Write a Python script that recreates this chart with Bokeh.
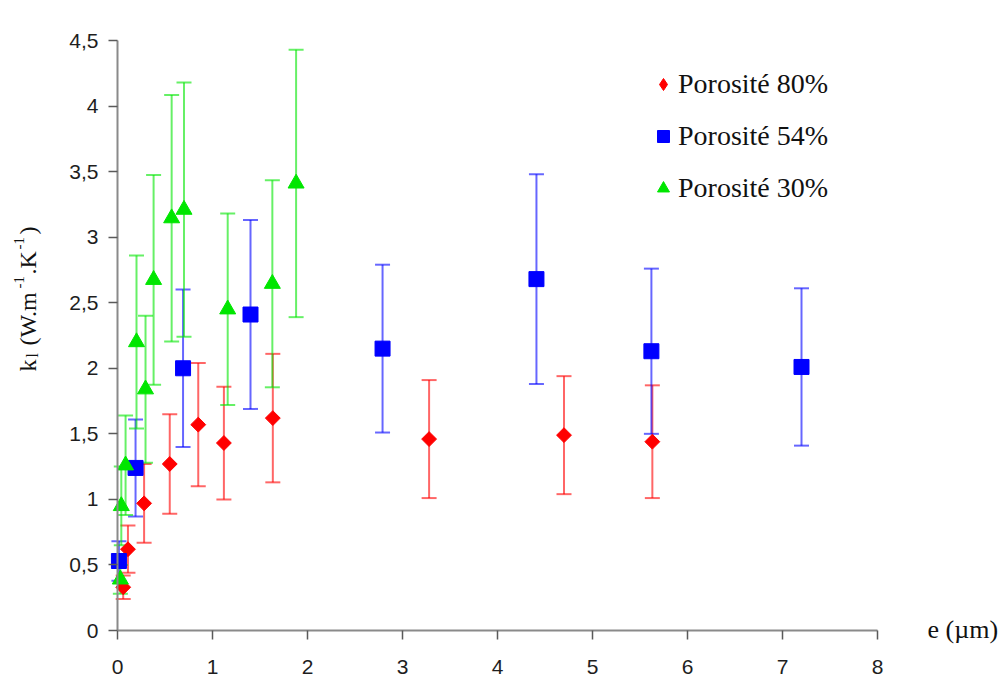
import numpy as np
from bokeh.plotting import figure
from bokeh.models import (ColumnDataSource, Whisker, TeeHead, Legend, LegendItem,
                          Label, FixedTicker, Range1d)
from bokeh.embed import file_html
from bokeh.resources import INLINE

# Epaisseur e (µm), conductivité kl et incertitude (±) pour chaque porosité
e80 = [0.06, 0.11, 0.28, 0.55, 0.85, 1.12, 1.635, 3.28, 4.70, 5.63]
k80 = [0.33, 0.62, 0.97, 1.27, 1.57, 1.43, 1.62, 1.46, 1.49, 1.44]
err80 = [0.09, 0.18, 0.30, 0.38, 0.47, 0.43, 0.49, 0.45, 0.45, 0.43]

e54 = [0.015, 0.19, 0.69, 1.40, 2.79, 4.41, 5.62, 7.20]
k54 = [0.53, 1.24, 2.00, 2.41, 2.15, 2.68, 2.13, 2.01]
err54 = [0.15, 0.37, 0.60, 0.72, 0.64, 0.80, 0.63, 0.60]

e30 = [0.03, 0.04, 0.085, 0.20, 0.295, 0.38, 0.57, 0.70, 1.16, 1.63, 1.88]
k30 = [0.39, 0.95, 1.26, 2.20, 1.84, 2.675, 3.145, 3.21, 2.45, 2.645, 3.41]
err30 = [0.11, 0.30, 0.38, 0.66, 0.56, 0.80, 0.94, 0.97, 0.73, 0.79, 1.02]

series_names = ["Porosité 80%", "Porosité 54%", "Porosité 30%"]
x_ticks = [0, 1, 2, 3, 4, 5, 6, 7, 8]
y_ticks = [0, 0.5, 1, 1.5, 2, 2.5, 3, 3.5, 4, 4.5]
y_tick_labels = ["0", "0,5", "1", "1,5", "2", "2,5", "3", "3,5", "4", "4,5"]

RED, BLUE, GREEN = "#ff0000", "#0000ff", "#00e600"
SERIF = "Liberation Serif"
SANS = "Liberation Sans"

W, H = 1007, 680
# axes box in canvas pixels: x 0..8 spans 117..877, y 0..4.5 spans 630..40
X0_PX, X1_PX, Y0_PX, Y1_PX = 117, 877, 630, 40
XMAX, YMAX = 8.0, 4.5
sx = (X1_PX - X0_PX) / XMAX
sy = (Y0_PX - Y1_PX) / YMAX

# the plotting frame covers the whole canvas; the axes sit at e = 0 and kl = 0
x_range = Range1d(-X0_PX / sx, (W - X0_PX) / sx)
y_range = Range1d(-(H - Y0_PX) / sy, Y0_PX / sy)

p = figure(width=W, height=H, x_range=x_range, y_range=y_range,
           output_backend="svg", toolbar_location=None, min_border=0)
p.xgrid.visible = False
p.ygrid.visible = False
p.outline_line_color = None
p.background_fill_color = "white"
p.border_fill_color = "white"

for ax in (p.xaxis[0], p.yaxis[0]):
    ax.fixed_location = 0
    ax.axis_line_color = "#8a8a8a"
    ax.axis_line_width = 2
    ax.major_tick_line_color = "#5a5a5a"
    ax.major_tick_line_width = 1.5
    ax.major_tick_in = 0
    ax.major_tick_out = 9
    ax.minor_tick_line_color = None
    ax.major_label_text_font = SANS
    ax.major_label_text_font_size = "21px"
    ax.major_label_text_color = "#1e1e1e"

p.xaxis.bounds = (0, XMAX)
p.yaxis.bounds = (0, YMAX)
p.xaxis.ticker = FixedTicker(ticks=x_ticks)
p.yaxis.ticker = FixedTicker(ticks=y_ticks)
p.yaxis.major_label_overrides = {t: s for t, s in zip(y_ticks, y_tick_labels)}
p.xaxis.major_label_standoff = 20
p.yaxis.major_label_standoff = 10


def add_series(e, k, err, color):
    src = ColumnDataSource(dict(
        x=e, y=k,
        lo=[v - d for v, d in zip(k, err)],
        hi=[v + d for v, d in zip(k, err)],
    ))
    head = dict(size=15, line_color=color, line_alpha=0.6, line_width=2)
    p.add_layout(Whisker(source=src, base="x", lower="lo", upper="hi",
                         dimension="height", line_color=color, line_alpha=0.6,
                         line_width=2, upper_head=TeeHead(**head),
                         lower_head=TeeHead(**head)))
    return src


s80 = add_series(e80, k80, err80, RED)
s54 = add_series(e54, k54, err54, BLUE)
s30 = add_series(e30, k30, err30, GREEN)

r80 = p.scatter("x", "y", source=s80, marker="square", angle=np.pi / 4, size=10.5,
                fill_color=RED, line_color=RED)
r54 = p.scatter("x", "y", source=s54, marker="square", size=15,
                fill_color=BLUE, line_color=BLUE)
r30 = p.scatter("x", "y", source=s30, marker="triangle", size=16,
                fill_color=GREEN, line_color=GREEN)

# legend swatch for the 80% series (legend swatches ignore a marker's angle)
sw80 = p.scatter(x=np.array([np.nan]), y=np.array([np.nan]), marker="diamond",
                 size=10, fill_color=RED, line_color=RED)

legend = Legend(
    items=[LegendItem(label=series_names[0], renderers=[sw80]),
           LegendItem(label=series_names[1], renderers=[r54]),
           LegendItem(label=series_names[2], renderers=[r30])],
    location=(648, 475), orientation="vertical",
    glyph_width=30, glyph_height=34, label_height=34, spacing=18,
    padding=0, margin=0, label_standoff=0,
    border_line_alpha=0, background_fill_alpha=0,
    label_text_font=SERIF, label_text_font_size="28px", label_text_color="#111111",
)
p.add_layout(legend)


def px_x(px):
    return (px - X0_PX) / sx


def px_y(py):
    return (Y0_PX - py) / sy


def ylab_piece(text, base_px, start_px, size):
    p.add_layout(Label(x=px_x(base_px), y=px_y(start_px), text=text, angle=np.pi / 2,
                       text_align="left", text_baseline="alphabetic",
                       text_font=SERIF, text_font_size=size, text_color="#111111"))


# k_l (W.m^-1.K^-1), written bottom to top with sub/superscripts
ylab_piece("k", 27, 371, "24px")
ylab_piece("l", 32, 357, "16px")
ylab_piece("(W.m", 27, 345, "24px")
ylab_piece("-1", 18, 288, "15px")
ylab_piece(".K", 27, 274, "24px")
ylab_piece("-1", 18, 249, "15px")
ylab_piece(")", 27, 234, "24px")

p.add_layout(Label(x=px_x(927), y=px_y(629), text="e (µm)", text_align="left",
                   text_baseline="middle", text_font=SERIF, text_font_size="26px",
                   text_color="#111111"))

open("out.html", "w").write(file_html(p, INLINE))
